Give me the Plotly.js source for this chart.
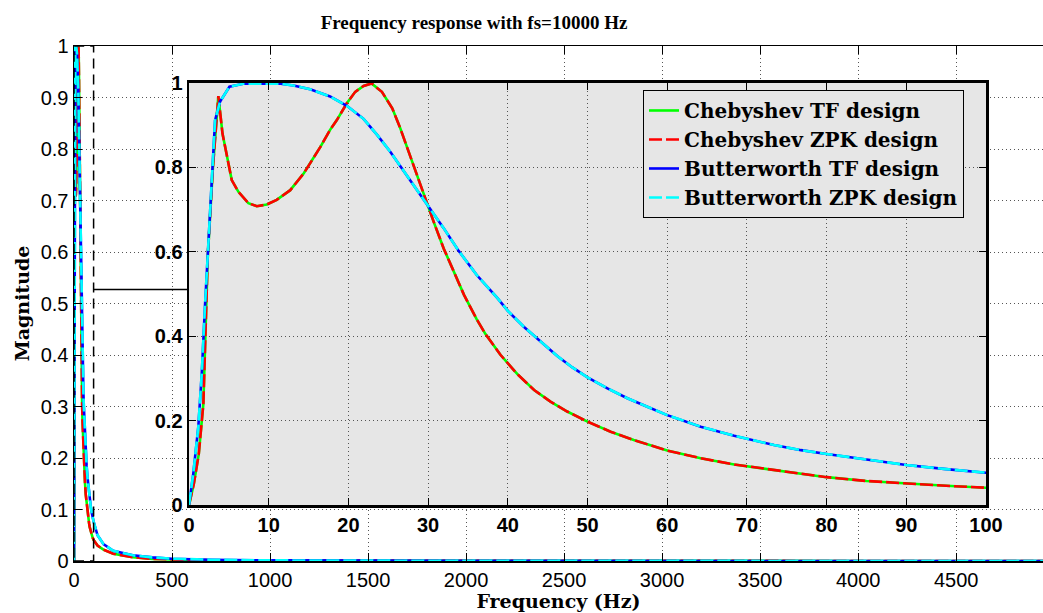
<!DOCTYPE html>
<html><head><meta charset="utf-8">
<script src="https://cdn.plot.ly/plotly-3.0.1.min.js"></script>
<style>html,body{margin:0;padding:0;background:#fff;}#plot{width:1043px;height:613px;}</style>
</head><body><div id="plot"></div>
<script>
// ---- data ----
const freqCheb = [0, 0.6, 1.22, 1.8, 2.35, 3.0, 3.68, 4.2, 4.94, 5.36, 6.2, 7.45, 8.5, 9.76, 11.0, 12.7, 14.4, 16.5, 17.7, 18.55, 19.8, 20.85, 21.9, 22.9, 24.2, 25.5, 26.5, 27.55, 28.6, 29.65, 30.7, 31.95, 33.2, 34.5, 36.1, 37.2, 39.07, 41.2, 43.3, 45.35, 47.45, 50, 52.9, 55.8, 60, 64.2, 68.4, 72.6, 76.8, 80, 85, 90, 95, 100];
const magCheb  = [0, 0.05, 0.12, 0.24, 0.588, 0.80, 0.969, 0.88, 0.81, 0.77, 0.742, 0.715, 0.708, 0.712, 0.723, 0.746, 0.786, 0.849, 0.889, 0.912, 0.952, 0.979, 0.993, 0.999, 0.979, 0.940, 0.893, 0.837, 0.778, 0.723, 0.671, 0.608, 0.553, 0.498, 0.440, 0.405, 0.356, 0.310, 0.2725, 0.245, 0.2215, 0.1975, 0.1738, 0.154, 0.129, 0.111, 0.096, 0.0845, 0.0735, 0.066, 0.057, 0.0506, 0.0455, 0.041];
const freqButter = [0, 0.54, 1.17, 1.6, 2.0, 2.43, 3.27, 3.9, 5.07, 6.8, 10, 11.5, 13.1, 15.2, 17.7, 19.8, 21.9, 23.6, 25.25, 26.7, 28.2, 30, 31.95, 33.8, 36.1, 38.7, 40, 42, 44.1, 46.2, 48.1, 50, 52.5, 55, 57.5, 60, 64.2, 68.4, 73.4, 76.8, 80, 85, 90, 95, 100];
const magButter  = [0, 0.075, 0.186, 0.312, 0.47, 0.628, 0.912, 0.956, 0.991, 0.998, 0.999, 0.998, 0.994, 0.985, 0.968, 0.946, 0.915, 0.877, 0.837, 0.798, 0.758, 0.707, 0.656, 0.603, 0.545, 0.49, 0.46, 0.4225, 0.387, 0.353, 0.326, 0.3025, 0.2765, 0.253, 0.233, 0.213, 0.1856, 0.1643, 0.142, 0.130, 0.121, 0.107, 0.0948, 0.085, 0.0766];
const freqTail = [120, 150, 200, 300, 400, 500, 700, 1000, 2000, 3000, 4000, 5000];
const magChebTail   = [0.030, 0.022, 0.014, 0.0075, 0.004, 0.003, 0.0015, 0.0008, 0.0002, 0.0001, 0.00005, 0];
const magButterTail = [0.050, 0.033, 0.020, 0.011, 0.007, 0.0045, 0.0025, 0.0012, 0.0003, 0.00015, 0.00008, 0];
const seriesNames = ['Chebyshev TF design', 'Chebyshev ZPK design', 'Butterworth TF design', 'Butterworth ZPK design'];
const mainXTicks = [0, 500, 1000, 1500, 2000, 2500, 3000, 3500, 4000, 4500];
const mainYTicks = [0, 0.1, 0.2, 0.3, 0.4, 0.5, 0.6, 0.7, 0.8, 0.9, 1];
const insetXTicks = [0, 10, 20, 30, 40, 50, 60, 70, 80, 90, 100];
const insetYTicks = [0, 0.2, 0.4, 0.6, 0.8, 1];
const zoomBox = {f0: 0, f1: 100, m0: 0, m1: 1};
const connectorLevel = 0.527;
const titleText = 'Frequency response with fs=10000 Hz';
const xTitle = 'Frequency (Hz)';
const yTitle = 'Magnitude';

// ---- style ----
const xMax = 4943;
const insetDomX = [0.1187, 0.9412];
const insetDomY = [0.1087, 0.9282];
const gridDash = '1px,3px';
const gridColor = '#555';
const serif = 'DejaVu Serif';
const sans = 'Liberation Sans';
const dashPat = '13px,4px';
const lw = 2.6;

const chebF = freqCheb.concat(freqTail), chebM = magCheb.concat(magChebTail);
const butF = freqButter.concat(freqTail), butM = magButter.concat(magButterTail);
const styles = [
  {color: '#00ff00', dash: 'solid', f: chebF, m: chebM},
  {color: '#ff0000', dash: dashPat, f: chebF, m: chebM},
  {color: '#0000ff', dash: 'solid', f: butF, m: butM},
  {color: '#00ffff', dash: dashPat, f: butF, m: butM}
];
const traces = [];
styles.forEach((s, i) => traces.push({x: s.f, y: s.m, type: 'scatter', mode: 'lines', name: seriesNames[i],
  line: {color: s.color, width: lw, dash: s.dash}, xaxis: 'x', yaxis: 'y', showlegend: true, hoverinfo: 'skip'}));
styles.forEach((s, i) => traces.push({x: s.f, y: s.m, type: 'scatter', mode: 'lines', name: seriesNames[i],
  line: {color: s.color, width: lw, dash: s.dash}, xaxis: 'x2', yaxis: 'y2', showlegend: false, hoverinfo: 'skip'}));

const axCommon = {showline: true, linecolor: '#000', ticks: 'inside', tickcolor: '#000', zeroline: false,
  showgrid: true, gridcolor: gridColor, griddash: gridDash, gridwidth: 1, mirror: 'ticks'};

const layout = {
  width: 1043, height: 613,
  margin: {l: 74, r: 0, t: 46, b: 52, pad: 0},
  paper_bgcolor: '#fff', plot_bgcolor: '#fff',
  showlegend: true,
  title: {text: titleText, font: {family: 'Liberation Serif', size: 19, weight: 'bold', color: '#000'},
    x: 0.4128, xref: 'paper', xanchor: 'center', y: 1 - 22/613, yref: 'container', yanchor: 'middle'},
  xaxis: Object.assign({}, axCommon, {range: [0, xMax], tickvals: mainXTicks, ticklen: 8, linewidth: 1.5,
    tickfont: {family: sans, size: 20, color: '#000'},
    title: {text: xTitle, font: {family: serif, size: 19, weight: 'bold', color: '#000'}, standoff: 3}}),
  yaxis: Object.assign({}, axCommon, {range: [0, 1], tickvals: mainYTicks, ticklen: 8, linewidth: 1.5, mirror: false,
    tickfont: {family: sans, size: 20, color: '#000'},
    title: {text: yTitle, font: {family: serif, size: 19, weight: 'bold', color: '#000'}, standoff: 6}}),
  xaxis2: Object.assign({}, axCommon, {domain: insetDomX, anchor: 'y2', range: [0, 100], tickvals: insetXTicks,
    ticklen: 7, linewidth: 2.5, tickfont: {family: sans, size: 20, weight: 'bold', color: '#000'}}),
  yaxis2: Object.assign({}, axCommon, {domain: insetDomY, anchor: 'x2', range: [0, 1], tickvals: insetYTicks,
    ticklen: 7, linewidth: 2.5, tickfont: {family: sans, size: 20, weight: 'bold', color: '#000'}}),
  legend: {x: 0.5872, y: 0.9146, xanchor: 'left', yanchor: 'top', xref: 'paper', yref: 'paper',
    bgcolor: '#e6e6e6', bordercolor: '#000', borderwidth: 1,
    font: {family: serif, size: 20, weight: 'bold', color: '#000'}, tracegroupgap: 0},
  shapes: [
    {type: 'rect', xref: 'x2', yref: 'y2', x0: 0, x1: 100, y0: 0, y1: 1, fillcolor: '#e6e6e6', line: {width: 0}, layer: 'below'},
    {type: 'rect', xref: 'x', yref: 'y', x0: zoomBox.f0, x1: zoomBox.f1, y0: zoomBox.m0, y1: zoomBox.m1,
      line: {color: '#000', width: 1.5, dash: '10px,6px'}, fillcolor: 'rgba(0,0,0,0)', layer: 'above'},
    {type: 'line', xref: 'x', yref: 'y', x0: zoomBox.f1, x1: insetDomX[0] * xMax, y0: connectorLevel, y1: connectorLevel,
      line: {color: '#000', width: 1.5}, layer: 'above'}
  ]
};
Plotly.newPlot('plot', traces, layout, {displayModeBar: false, staticPlot: true});
</script></body></html>
